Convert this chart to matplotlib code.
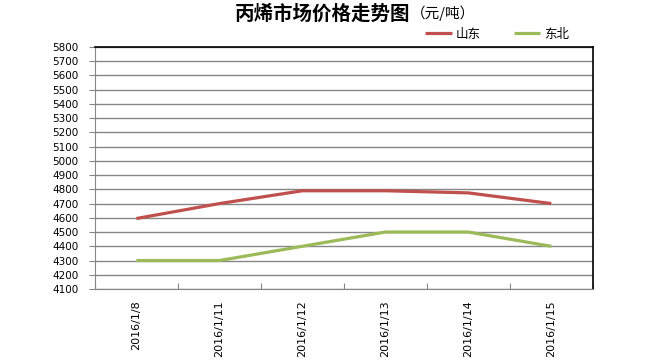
import matplotlib.pyplot as plt
import numpy as np

plt.rcParams['font.family'] = ['Noto Sans CJK SC', 'DejaVu Sans']

dates = ["2016/1/8", "2016/1/11", "2016/1/12", "2016/1/13", "2016/1/14", "2016/1/15"]
shandong = [4595, 4700, 4790, 4790, 4775, 4700]
dongbei = [4300, 4300, 4400, 4500, 4500, 4400]
y_ticks = list(range(4100, 5801, 100))

fig = plt.figure(figsize=(6.5, 3.61), dpi=100)
ax = fig.add_axes([0.146, 0.1994, 0.766, 0.6706])

x = np.arange(len(dates))
ax.plot(x, shandong, color="#C0504D", linewidth=2.3, label="山东", solid_capstyle="butt")
ax.plot(x, dongbei, color="#9BBB59", linewidth=2.3, label="东北", solid_capstyle="butt")

ax.set_xlim(-0.5, len(dates) - 0.5)
ax.set_ylim(4100, 5800)
ax.set_yticks(y_ticks)
ax.set_yticklabels([str(v) for v in y_ticks], fontsize=7.5, family="DejaVu Sans")
ax.yaxis.grid(True, color="#868686", linewidth=1.0)
ax.set_axisbelow(True)

# category ticks sit between the dates, labels centred on the dates
ax.set_xticks(np.arange(-0.5, len(dates), 1.0))
ax.set_xticklabels([])
ax.set_xticks(x, minor=True)
ax.set_xticklabels(dates, minor=True, rotation=90, fontsize=8, family="DejaVu Sans")
ax.tick_params(axis="x", which="major", direction="in", length=4, color="#868686")
ax.tick_params(axis="x", which="minor", length=0, pad=8)
ax.tick_params(axis="y", direction="out", length=4, color="#868686", pad=8)

for side in ["left", "bottom"]:
    ax.spines[side].set_color("#868686")
for side in ["top", "right"]:
    ax.spines[side].set_color("black")
    ax.spines[side].set_linewidth(1.2)

fig.text(0.631, 0.962, "丙烯市场价格走势图", ha="right", va="center",
         fontsize=14, fontweight="bold")
fig.text(0.632, 0.962, "（元/吨）", ha="left", va="center", fontsize=10.5)

ax.legend(loc="lower right", bbox_to_anchor=(0.965, 1.0), ncol=2, frameon=False,
          fontsize=9, handlelength=2.1, columnspacing=2.7, handletextpad=0.3,
          borderaxespad=0.1)

fig.savefig("out.png", dpi=100)
